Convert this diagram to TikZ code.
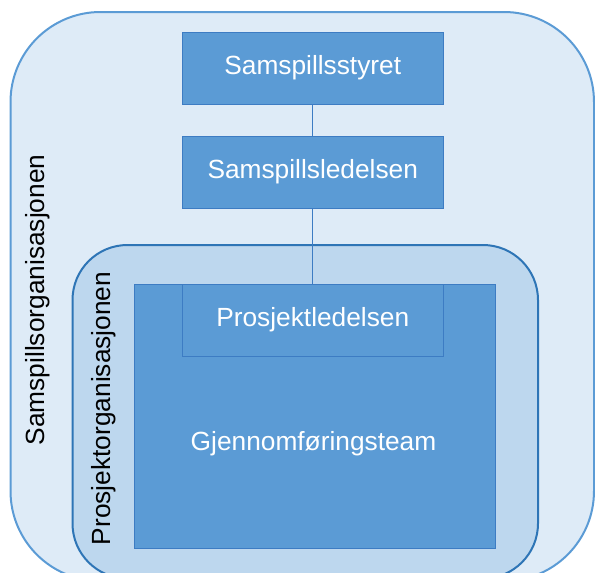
\documentclass[tikz,border=0pt]{standalone}
\usepackage{fontspec}
\setmainfont{Liberation Sans}
\definecolor{outerfill}{HTML}{DEEBF7}
\definecolor{outerline}{HTML}{5B9BD5}
\definecolor{innerfill}{HTML}{BDD7EE}
\definecolor{innerline}{HTML}{2E75B6}
\definecolor{boxfill}{HTML}{5B9BD5}
\definecolor{boxline}{HTML}{3D7CC3}
\tikzset{
  txt/.style={font=\fontsize{26.3pt}{30pt}\selectfont, inner sep=0pt},
  orgbox/.style={txt, draw=boxline, line width=1pt, fill=boxfill, text=white, rectangle},
  vlabel/.style={txt, text=black, rotate=90, anchor=base},
  conn/.style={draw=boxline, line width=1.3pt}
}
\begin{document}
\begin{tikzpicture}[x=1pt,y=-1pt]
\useasboundingbox (0,0) rectangle (595,573);
\clip (0,0) rectangle (595,573);
% outer and inner regions
\draw[fill=outerfill, draw=outerline, line width=2pt, rounded corners=90pt] (10.5,12) rectangle (594,581);
\draw[fill=innerfill, draw=innerline, line width=2pt, rounded corners=55pt] (72.5,245) rectangle (538,578.5);
% boxes
\node[orgbox, minimum width=260.5pt, minimum height=72pt] (styret) at (312.75,68) {Samspillsstyret};
\node[orgbox, minimum width=260.5pt, minimum height=72pt] (ledelsen) at (312.75,172) {Samspillsledelsen};
\node[orgbox, minimum width=361pt, minimum height=264pt] (team) at (314.5,416) {};
\node[txt, text=white, anchor=base] (teamtxt) at (313.5,450) {Gjennomføringsteam};
\node[orgbox, minimum width=260.5pt, minimum height=72pt] (prosj) at (312.75,320) {Prosjektledelsen};
% connectors
\draw[conn] (styret.south) -- (ledelsen.north);
\draw[conn] (ledelsen.south) -- (prosj.north);
% vertical labels
\node[vlabel] (sorg) at (45,300) {Samspillsorganisasjonen};
\node[vlabel] (porg) at (110,408.5) {Prosjektorganisasjonen};
\end{tikzpicture}
\end{document}
